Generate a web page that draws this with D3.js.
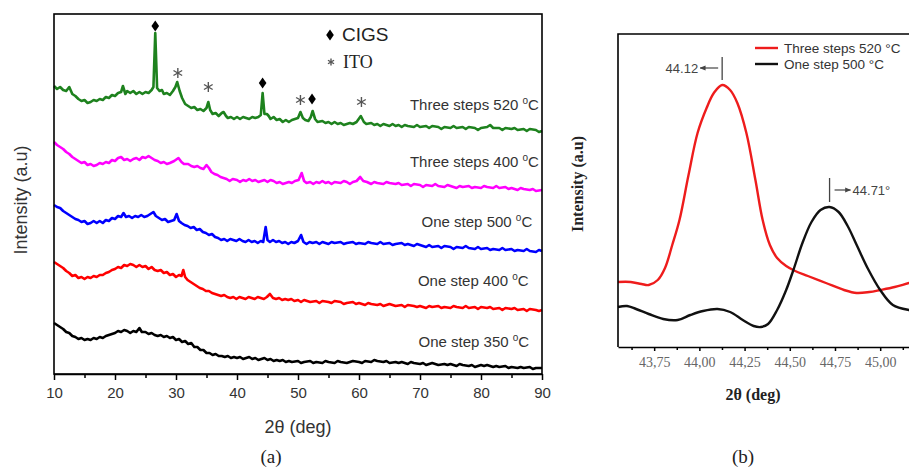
<!DOCTYPE html>
<html>
<head>
<meta charset="utf-8">
<script src="https://cdn.jsdelivr.net/npm/d3@7"></script>
<style>
  body { margin: 0; background: #fff; }
  svg { display: block; }
</style>
</head>
<body>
<div id="chart"></div>
<script>
// ---- data: panel (a) XRD patterns, [2theta, intensity (a.u., stacked)] ----
const green520 = [[10,288],[10.5,285],[11,287],[11.5,284],[12,283],[12.5,287],[13,280],[13.5,278],[14,275],[14.5,273],[15,274],[15.5,271],[16,272],[16.5,274],[17,273],[17.5,275],[18,274],[18.5,277],[19,276],[19.5,279],[20,278],[20.5,281],[21,282],[21.3,288],[21.7,280],[22,283],[22.5,281],[23,283],[23.5,280],[24,282],[24.5,280],[25,282],[25.5,281],[26,284],[26.3,287],[26.6,341],[26.9,286],[27.3,283],[27.7,284],[28,280],[28.5,281],[29,279],[29.5,283],[29.9,287],[30.2,292],[30.6,283],[31,276],[31.5,270],[32,268],[32.5,266],[33,267],[33.5,264],[34,265],[34.5,263],[35,266],[35.3,272],[35.6,264],[36,260],[36.5,261],[37,258],[37.5,261],[37.8,262],[38.2,258],[38.5,256],[39,257],[39.5,255],[40,257],[40.5,255],[41,257],[41.5,256],[42,255],[42.5,257],[43,256],[43.5,257],[43.9,259],[44.2,281],[44.5,260],[44.9,260],[45.2,258],[45.5,255],[46,257],[46.5,254],[47,255],[47.5,252],[48,254],[48.5,252],[49,254],[49.5,255],[50,256],[50.4,262],[50.8,256],[51.2,254],[51.7,253],[52.1,257],[52.4,263],[52.8,255],[53.2,252],[54,253],[54.5,251],[55,252],[55.5,250],[56,252],[56.5,250],[57,251],[57.5,249],[58,250],[58.5,251],[59,250],[59.6,252],[60.3,258],[60.8,252],[61.2,250],[62,251],[62.5,249],[63,250],[63.5,248],[64,250],[64.5,249],[65,248],[65.5,250],[66,248],[66.5,249],[67,247],[67.5,249],[68,248],[69,247],[69.5,249],[70,247],[71,248],[71.5,246],[72,248],[73,247],[73.5,245],[74,247],[75,246],[75.5,248],[76,246],[77,247],[77.5,245],[78,247],[79,246],[79.5,244],[80,246],[81,247],[81.5,249],[82,246],[83,246],[83.5,244],[84,246],[85,245],[85.5,246],[86,244],[87,245],[87.5,243],[88,245],[89,244],[89.5,242],[90,243]];

const magenta400 = [[10,232],[10.5,229],[11,227],[11.5,225],[12,222],[12.5,220],[13,217],[13.5,215],[14,213],[14.5,211],[15,212],[15.5,209],[16,210],[16.5,208],[17,209],[17.5,211],[18,210],[18.5,212],[19,211],[19.5,214],[20,213],[20.5,216],[21,217],[21.5,214],[22,215],[22.5,213],[23,215],[23.5,216],[24,214],[24.5,217],[25,216],[25.5,218],[26,216],[26.5,214],[27,213],[27.5,211],[28,212],[28.5,210],[29,211],[29.7,213],[30.4,216],[30.9,212],[31.3,210],[32,210],[32.5,208],[33,207],[33.5,208],[34,206],[34.5,205],[35,209],[35.4,206],[35.8,202],[36.3,200],[36.8,199],[37.3,197],[37.8,196],[38.3,195],[38.8,193],[39.3,195],[40,194],[40.5,192],[41,194],[41.5,193],[42,195],[42.5,193],[43,194],[43.5,192],[44,193],[44.5,194],[45,192],[45.5,194],[46,193],[46.5,191],[47,192],[47.5,190],[48,191],[48.5,192],[49,191],[49.5,193],[50.1,194],[50.6,201],[51,193],[51.4,191],[52,192],[52.5,190],[53,192],[53.5,191],[54,193],[54.5,191],[55,192],[55.5,190],[56,192],[57,191],[57.5,193],[58,192],[58.5,190],[59,192],[59.6,193],[60.2,197],[60.7,193],[61.3,192],[62,190],[62.5,192],[63,191],[64,190],[64.5,192],[65,191],[66,190],[66.5,191],[67,189],[68,190],[68.5,188],[69,190],[70,189],[70.5,187],[71,189],[72,188],[72.5,190],[73,188],[74,187],[74.5,189],[75,188],[76,186],[76.5,188],[77,187],[78,188],[78.5,186],[79,187],[80,186],[80.5,188],[81,187],[82,186],[82.5,188],[83,186],[84,187],[84.5,185],[85,186],[86,184],[86.5,186],[87,185],[88,184],[88.5,185],[89,183],[90,184]];

const blue500 = [[10,169],[10.5,167],[11,166],[11.5,163],[12,161],[12.5,159],[13,157],[13.5,155],[14,154],[14.5,152],[15,153],[15.5,150],[16,151],[16.5,153],[17,151],[17.5,153],[18,151],[18.5,154],[19,153],[19.5,156],[20,155],[20.5,158],[21,157],[21.4,161],[21.8,157],[22.3,158],[22.8,156],[23.3,158],[23.8,157],[24.3,159],[24.8,157],[25.3,158],[25.8,160],[26.3,162],[26.7,158],[27.2,156],[27.7,154],[28.2,155],[28.7,152],[29.2,153],[29.7,154],[30.1,160],[30.5,153],[30.9,151],[31.4,149],[31.9,148],[32.4,146],[32.9,147],[33.4,144],[33.9,145],[34.4,142],[34.9,141],[35.4,139],[35.9,140],[36.4,137],[36.9,136],[37.4,134],[37.9,135],[38.4,133],[38.9,135],[39.4,134],[39.9,133],[40.4,135],[40.9,133],[41.4,132],[41.9,134],[42.4,132],[42.9,133],[43.4,131],[43.9,133],[44.3,132],[44.7,147],[45.0,134],[45.4,132],[45.9,134],[46.4,132],[46.9,133],[47.4,131],[47.9,132],[48.4,130],[48.9,132],[49.4,131],[50,133],[50.5,139],[50.9,132],[51.4,130],[51.9,132],[52.4,131],[53,132],[53.5,130],[54,132],[54.5,131],[55,130],[55.5,132],[56,131],[57,132],[57.5,130],[58,131],[59,132],[59.5,130],[60,131],[61,130],[61.5,132],[62,131],[63,130],[63.5,132],[64,130],[65,131],[65.5,129],[66,130],[67,131],[67.5,129],[68,130],[69,128],[69.5,130],[70,129],[71,127],[71.5,129],[72,127],[73,128],[73.5,126],[74,128],[75,127],[75.5,125],[76,127],[77,126],[77.5,128],[78,126],[79,125],[79.5,127],[80,125],[81,126],[81.5,124],[82,125],[83,124],[83.5,126],[84,124],[85,125],[85.5,123],[86,124],[87,123],[87.5,125],[88,123],[89,122],[89.5,124],[90,123]];

const red400 = [[10,112],[10.5,110],[11,108],[11.5,106],[12,103],[12.5,101],[13,98],[13.5,99],[14,96],[14.5,97],[15,95],[15.5,97],[16,96],[16.5,98],[17,97],[17.5,99],[18,99],[18.5,101],[19,102],[19.5,104],[20,105],[20.5,107],[21,106],[21.5,109],[22,108],[22.5,110],[23,109],[23.5,107],[24,109],[24.5,107],[25,108],[25.5,105],[26,107],[26.5,104],[27,103],[27.5,104],[28,101],[28.5,102],[29,99],[29.5,100],[30,97],[30.5,99],[30.9,98],[31.2,104],[31.5,97],[31.9,94],[32.4,92],[32.9,90],[33.4,88],[33.9,86],[34.4,85],[34.9,83],[35.4,83],[35.9,81],[36.4,80],[36.9,79],[37.4,78],[37.9,79],[38.4,77],[38.9,76],[39.4,77],[39.9,75],[40.4,77],[40.9,76],[41.4,75],[41.9,77],[42.4,76],[42.9,75],[43.4,77],[43.9,76],[44.4,75],[44.9,77],[45.4,80],[45.9,76],[46.4,75],[46.9,76],[47.4,74],[47.9,75],[48.4,74],[48.9,75],[49.4,73],[50,74],[50.5,72],[51,74],[51.5,73],[52,72],[53,73],[53.5,71],[54,73],[55,72],[55.5,71],[56,73],[57,72],[57.5,70],[58,71],[59,72],[59.5,70],[60,71],[61,69],[61.5,71],[62,70],[63,69],[63.5,70],[64,68],[65,70],[65.5,69],[66,68],[67,69],[67.5,67],[68,69],[69,68],[69.5,67],[70,68],[71,66],[71.5,68],[72,67],[73,68],[73.5,66],[74,67],[75,66],[75.5,68],[76,67],[77,66],[77.5,68],[78,66],[79,67],[79.5,65],[80,67],[81,66],[81.5,67],[82,65],[83,66],[83.5,64],[84,66],[85,65],[85.5,66],[86,64],[87,65],[87.5,63],[88,65],[89,64],[89.5,63],[90,64]];

const black350 = [[10,51],[10.5,49],[11,47],[11.5,45],[12,42],[12.5,41],[13,38],[13.5,37],[14,35],[14.5,36],[15,34],[15.5,35],[16,34],[16.5,36],[17,35],[17.5,37],[18,36],[18.5,38],[19,39],[19.5,40],[20,41],[20.5,43],[21,42],[21.5,44],[22,43],[22.5,41],[23,43],[23.5,42],[24,46],[24.4,42],[25,42],[25.5,40],[26,41],[26.5,39],[27,38],[27.5,39],[28,37],[28.5,38],[29,36],[29.5,37],[30,34],[30.5,35],[31,32],[31.5,33],[32,30],[32.5,31],[33,27],[33.5,27],[34,24],[34.5,24],[35,21],[35.5,21],[36,19],[36.5,20],[37,18],[37.5,18],[38,17],[38.5,18],[39,16],[39.5,17],[40,16],[40.5,17],[41,15],[41.5,16],[42,17],[42.5,15],[43,16],[43.5,14],[44,15],[44.5,16],[45,14],[45.5,15],[46,13],[46.5,14],[47,13],[47.5,14],[48,12],[48.5,13],[49,12],[50,13],[50.5,11],[51,12],[52,13],[52.5,11],[53,12],[54,11],[54.5,13],[55,12],[56,11],[56.5,13],[57,12],[58,11],[58.5,12],[59,13],[60,12],[60.5,11],[61,13],[62,12],[62.5,14],[63,13],[64,12],[64.5,13],[65,11],[66,12],[66.5,11],[67,12],[68,10],[68.5,12],[69,11],[70,10],[70.5,11],[71,9],[72,11],[72.5,10],[73,9],[74,10],[74.5,9],[75,10],[76,8],[76.5,10],[77,9],[78,8],[78.5,9],[79,7],[80,9],[80.5,8],[81,9],[82,7],[82.5,8],[83,7],[84,8],[84.5,6],[85,7],[86,6],[86.5,7],[87,6],[88,7],[88.5,5],[89,6],[90,6]];

const seriesA = [
  { data: green520, color: "#1e821e", label: "Three steps 520", labelAt: [89.5, 264] },
  { data: magenta400, color: "#ff00ff", label: "Three steps 400", labelAt: [89.5, 207] },
  { data: blue500, color: "#0000ff", label: "One step 500", labelAt: [88.4, 147] },
  { data: red400, color: "#ff0000", label: "One step 400", labelAt: [87.8, 88] },
  { data: black350, color: "#000000", label: "One step 350", labelAt: [87.9, 27] }
];

// peak markers [2theta, height]
const cigsPeaks = [[26.6, 348], [44.2, 291], [52.3, 275]];
const itoPeaks = [[30.3, 301], [35.3, 287], [50.4, 274], [60.4, 272]];
const ticksA = [10, 20, 30, 40, 50, 60, 70, 80, 90];

// ---- data: panel (b) fitted peak ----
const red520Fit = [[43.55,65],[43.62,65],[43.68,63],[43.72,62],[43.77,67],[43.81,79],[43.85,102],[43.89,127],[43.94,172],[43.99,214],[44.04,239],[44.08,254],[44.126,262],[44.17,257],[44.21,244],[44.26,214],[44.31,167],[44.35,127],[44.39,102],[44.43,89],[44.48,81],[44.53,76],[44.6,71],[44.7,64],[44.8,57],[44.87,54],[44.94,55],[45.0,57],[45.08,60],[45.16,64],[45.25,68]];
const black500Fit = [[43.55,40],[43.6,41],[43.65,38],[43.72,33],[43.8,28],[43.88,27],[43.95,32],[44.02,36],[44.1,38],[44.17,35],[44.24,27],[44.3,21],[44.34,20],[44.38,23],[44.43,37],[44.48,57],[44.52,77],[44.57,104],[44.62,125],[44.67,137],[44.72,140],[44.77,135],[44.82,121],[44.87,102],[44.93,79],[45.0,57],[45.07,42],[45.16,37],[45.25,36]];
const ticksB = [43.75, 44.0, 44.25, 44.5, 44.75, 45.0];
const minorB = [43.625, 43.875, 44.125, 44.375, 44.625, 44.875, 45.125];

const W = 909, H = 467;
const sans = "'Liberation Sans', Arial, sans-serif";
const serif = "'Liberation Serif', 'Times New Roman', serif";

const svg = d3.select("#chart").append("svg")
  .attr("width", W).attr("height", H);

// ================= panel (a) =================
const xA = d3.scaleLinear().domain([10, 90]).range([54, 542]);
const yA = d3.scaleLinear().domain([0, 360]).range([374, 14]);

const lineA = d3.line().x(d => xA(d[0])).y(d => yA(d[1]));

seriesA.forEach(s => {
  svg.append("path")
    .datum(s.data)
    .attr("d", lineA)
    .attr("fill", "none")
    .attr("stroke", s.color)
    .attr("stroke-width", 2.6)
    .attr("stroke-linejoin", "round");
});

// curve labels
seriesA.forEach(s => {
  const t = svg.append("text")
    .attr("x", xA(s.labelAt[0]))
    .attr("y", yA(s.labelAt[1]))
    .attr("text-anchor", "end")
    .attr("font-family", sans)
    .attr("font-size", "15px")
    .attr("fill", "#333")
    .text(s.label + " ");
  t.append("tspan").attr("font-size", "10px").attr("dy", "-6").text("o");
  t.append("tspan").attr("dy", "6").text("C");
});

// frame + axis
svg.append("rect")
  .attr("x", 54).attr("y", 14).attr("width", 488).attr("height", 360)
  .attr("fill", "none").attr("stroke", "#000").attr("stroke-width", 1.6);

const axA = svg.append("g")
  .attr("transform", "translate(0,374)")
  .call(d3.axisBottom(xA).tickValues(ticksA).tickSize(6).tickPadding(7).tickSizeOuter(0));
axA.select(".domain").attr("stroke-width", 1.6);
axA.selectAll(".tick line").attr("stroke-width", 1.5);
axA.selectAll("text").attr("font-family", sans).attr("font-size", "15px").attr("fill", "#333");
svg.append("g")
  .attr("transform", "translate(0,374)")
  .call(d3.axisBottom(xA).tickValues(ticksA.slice(0, -1).map(v => v + 5)).tickSize(4).tickFormat(""))
  .call(g => g.select(".domain").remove())
  .selectAll("line").attr("stroke-width", 1.5);

// peak markers
const diamond = "M0,-5.5L3.8,0L0,5.5L-3.8,0Z";
svg.selectAll(".cigs").data(cigsPeaks).enter().append("path")
  .attr("transform", d => `translate(${xA(d[0])},${yA(d[1])})`)
  .attr("d", diamond).attr("fill", "#000");

function asterisk(g, r) {
  [90, 30, -30].forEach(a => {
    const rad = a * Math.PI / 180;
    g.append("line")
      .attr("x1", -r * Math.cos(rad)).attr("y1", -r * Math.sin(rad))
      .attr("x2", r * Math.cos(rad)).attr("y2", r * Math.sin(rad))
      .attr("stroke", "#555").attr("stroke-width", 1.4);
  });
}
itoPeaks.forEach(d => {
  const g = svg.append("g").attr("transform", `translate(${xA(d[0])},${yA(d[1])})`);
  asterisk(g, 5);
});

// legend of markers
svg.append("path").attr("transform", "translate(330,35)").attr("d", diamond).attr("fill", "#000");
svg.append("text").attr("x", 342).attr("y", 41)
  .attr("font-family", sans).attr("font-size", "19px").attr("fill", "#222").text("CIGS");
asterisk(svg.append("g").attr("transform", "translate(331,62)"), 3.5);
svg.append("text").attr("x", 343).attr("y", 68)
  .attr("font-family", serif).attr("font-size", "18px").attr("fill", "#222").text("ITO");

// axis titles
svg.append("text")
  .attr("transform", "translate(27,200) rotate(-90)")
  .attr("text-anchor", "middle")
  .attr("font-family", sans).attr("font-size", "18px").attr("fill", "#333")
  .text("Intensity (a.u)");
svg.append("text")
  .attr("x", 298).attr("y", 433).attr("text-anchor", "middle")
  .attr("font-family", sans).attr("font-size", "18px").attr("fill", "#333")
  .text("2θ (deg)");
svg.append("text")
  .attr("x", 271).attr("y", 463).attr("text-anchor", "middle")
  .attr("font-family", serif).attr("font-size", "19px").attr("fill", "#222")
  .text("(a)");

// ================= panel (b) =================
const xB = d3.scaleLinear().domain([43.55, 45.25]).range([618, 925.4]);
const yB = d3.scaleLinear().domain([0, 313]).range([347, 34]);
const lineB = d3.line().x(d => xB(d[0])).y(d => yB(d[1])).curve(d3.curveCatmullRom);

[[red520Fit, "#ee1c1c"], [black500Fit, "#111"]].forEach(([d, c]) => {
  svg.append("path").datum(d).attr("d", lineB)
    .attr("fill", "none").attr("stroke", c).attr("stroke-width", 2.4);
});

// frame
svg.append("path")
  .attr("d", `M618,347V34H${W + 5}`)
  .attr("fill", "none").attr("stroke", "#000").attr("stroke-width", 1.6);

const axB = svg.append("g")
  .attr("transform", "translate(0,347)")
  .call(d3.axisBottom(xB).tickValues(ticksB).tickSize(4).tickPadding(6).tickSizeOuter(0)
    .tickFormat(v => d3.format(".2f")(v).replace(".", ",")));
axB.select(".domain").attr("stroke-width", 1.6);
axB.selectAll(".tick line").attr("stroke-width", 1.5);
axB.selectAll("text").attr("font-family", serif).attr("font-size", "14px").attr("fill", "#666");
svg.append("g")
  .attr("transform", "translate(0,347)")
  .call(d3.axisBottom(xB).tickValues(minorB).tickSize(3).tickFormat(""))
  .call(g => g.select(".domain").remove())
  .selectAll("line").attr("stroke-width", 1.5);

// legend
const legB = [["Three steps 520 °C", "#ee1c1c", 48], ["One step 500 °C", "#111", 64]];
legB.forEach(([t, c, y]) => {
  svg.append("line").attr("x1", 755).attr("x2", 778).attr("y1", y).attr("y2", y)
    .attr("stroke", c).attr("stroke-width", 2.4);
  svg.append("text").attr("x", 784).attr("y", y + 5)
    .attr("font-family", sans).attr("font-size", "13.5px").attr("fill", "#333").text(t);
});

// peak position annotations
const arrowDefs = svg.append("defs");
arrowDefs.append("marker").attr("id", "ah").attr("viewBox", "0 0 10 10")
  .attr("refX", 9).attr("refY", 5).attr("markerWidth", 5).attr("markerHeight", 5)
  .attr("orient", "auto")
  .append("path").attr("d", "M0,1L10,5L0,9Z").attr("fill", "#444");

const redPeakX = xB(44.126), blackPeakX = xB(44.72);
svg.append("line").attr("x1", redPeakX).attr("x2", redPeakX).attr("y1", yB(290)).attr("y2", yB(267))
  .attr("stroke", "#444").attr("stroke-width", 1.3);
svg.append("line").attr("x1", redPeakX - 4).attr("x2", redPeakX - 22).attr("y1", yB(279)).attr("y2", yB(279))
  .attr("stroke", "#444").attr("stroke-width", 1.2).attr("marker-end", "url(#ah)");
svg.append("text").attr("x", redPeakX - 24).attr("y", yB(279) + 4.5).attr("text-anchor", "end")
  .attr("font-family", sans).attr("font-size", "13px").attr("fill", "#444").text("44.12");

svg.append("line").attr("x1", blackPeakX).attr("x2", blackPeakX).attr("y1", yB(169)).attr("y2", yB(145))
  .attr("stroke", "#444").attr("stroke-width", 1.3);
svg.append("line").attr("x1", blackPeakX + 5).attr("x2", blackPeakX + 21).attr("y1", yB(157)).attr("y2", yB(157))
  .attr("stroke", "#444").attr("stroke-width", 1.2).attr("marker-end", "url(#ah)");
svg.append("text").attr("x", blackPeakX + 23).attr("y", yB(157) + 4.5)
  .attr("font-family", sans).attr("font-size", "13px").attr("fill", "#444").text("44.71°");

// titles
svg.append("text")
  .attr("transform", "translate(583,184) rotate(-90)")
  .attr("text-anchor", "middle")
  .attr("font-family", serif).attr("font-size", "16px").attr("font-weight", "bold").attr("fill", "#222")
  .text("Intensity (a.u)");
svg.append("text")
  .attr("x", 753).attr("y", 400).attr("text-anchor", "middle")
  .attr("font-family", serif).attr("font-size", "16px").attr("font-weight", "bold").attr("fill", "#222")
  .text("2θ (deg)");
svg.append("text")
  .attr("x", 743).attr("y", 463).attr("text-anchor", "middle")
  .attr("font-family", serif).attr("font-size", "19px").attr("fill", "#222")
  .text("(b)");
</script>
</body>
</html>
